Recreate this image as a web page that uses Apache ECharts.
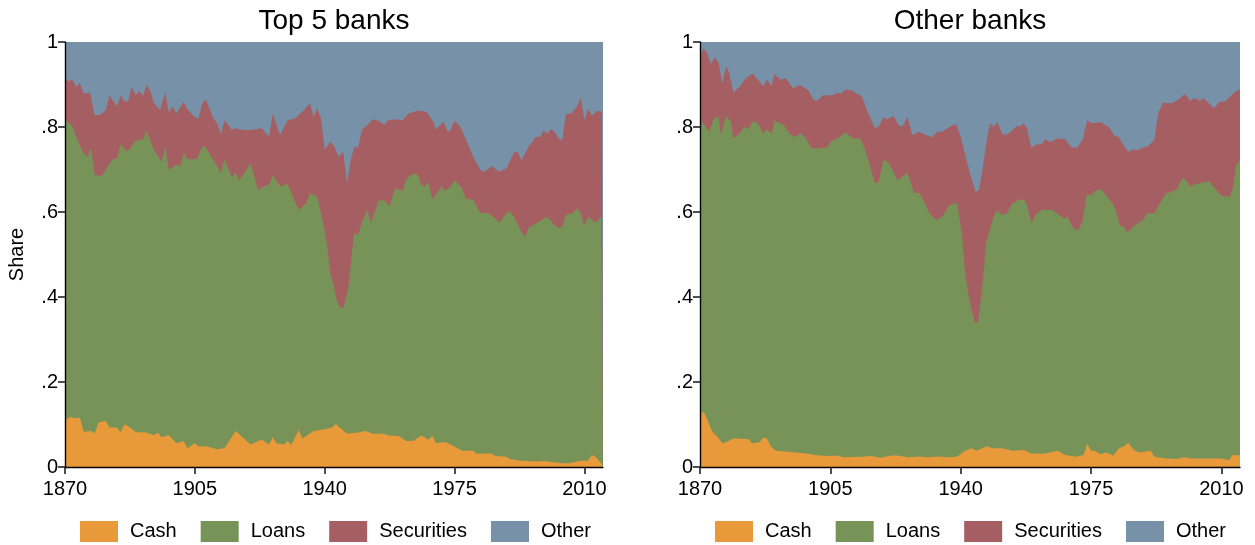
<!DOCTYPE html>
<html>
<head>
<meta charset="utf-8">
<title>Bank asset shares</title>
<script src="https://cdn.jsdelivr.net/npm/echarts@6/dist/echarts.min.js"></script>
<style>
  html, body { margin: 0; padding: 0; background: #fff; }
  #chart { width: 1255px; height: 545px; }
</style>
</head>
<body>
<div id="chart"></div>
<script>
// categories / ticks
const panelTitles = ['Top 5 banks', 'Other banks'];
const assetNames = ['Cash', 'Loans', 'Securities', 'Other'];
const assetColors = ['#e8993a', '#789358', '#a55f62', '#7791a9'];
const yearTicks = [1870, 1905, 1940, 1975, 2010];
const shareTicks = [0, 0.2, 0.4, 0.6, 0.8, 1];
const firstYear = 1870;
const lastYear = 2015;

// Top 5 banks: cumulative shares [year, share]
const top5Cash = [[1870,.111],[1871.6,.118],[1872.5,.115],[1874,.116],[1875,.083],[1877,.085],[1878,.079],[1879,.104],[1881,.109],[1882,.093],[1884,.093],[1885,.082],[1886,.100],[1887,.096],[1889,.083],[1890,.081],[1891.5,.082],[1894,.075],[1895,.081],[1896,.070],[1898,.075],[1900,.056],[1902,.061],[1903,.044],[1905,.056],[1906,.048],[1908,.049],[1911,.042],[1913,.045],[1916,.085],[1920,.053],[1923,.065],[1925,.053],[1926,.070],[1927,.056],[1929,.053],[1930,.061],[1931,.052],[1933,.087],[1934,.067],[1937,.085],[1940,.089],[1942,.093],[1943,.101],[1944,.093],[1946,.079],[1949,.081],[1951,.085],[1953,.078],[1956,.078],[1957,.074],[1960,.073],[1962,.061],[1964,.062],[1966,.074],[1968,.064],[1969,.073],[1970,.056],[1972,.059],[1973,.057],[1975,.048],[1977,.038],[1980,.038],[1981,.031],[1983,.032],[1985,.032],[1986,.026],[1989,.024],[1990,.018],[1993,.015],[1997,.013],[1999,.014],[2001,.012],[2004,.009],[2006,.009],[2009,.015],[2011,.015],[2012,.028],[2013,.024],[2014.5,.009],[2015,.007]];
const top5Loans = [[1870,.818],[1871,.809],[1872,.802],[1873,.777],[1875,.738],[1876,.730],[1877,.750],[1878,.687],[1880,.685],[1882,.715],[1883,.725],[1884,.726],[1885,.760],[1886.6,.742],[1888,.754],[1889,.768],[1891,.771],[1892,.791],[1894,.746],[1896,.718],[1897,.755],[1898,.699],[1900,.711],[1901,.707],[1902,.738],[1903,.724],[1905.5,.724],[1906,.722],[1907,.754],[1908,.752],[1910,.722],[1912,.693],[1913,.724],[1915,.682],[1916,.693],[1917,.675],[1920,.715],[1922,.652],[1924,.661],[1925,.664],[1926,.687],[1928,.660],[1930,.666],[1932,.624],[1933,.605],[1935,.620],[1936,.644],[1938,.636],[1939.6,.573],[1940.5,.530],[1941.5,.456],[1942.5,.424],[1943.2,.393],[1944,.377],[1945,.373],[1946.4,.424],[1947.9,.550],[1949,.546],[1950,.575],[1951.5,.605],[1952.5,.575],[1954.5,.627],[1956,.627],[1957.5,.614],[1959,.656],[1961,.650],[1962,.677],[1963.5,.689],[1965,.689],[1966,.664],[1967,.660],[1968,.669],[1969,.630],[1970,.642],[1971.5,.660],[1972.5,.650],[1974,.660],[1975,.675],[1977,.656],[1978,.632],[1980,.628],[1982,.597],[1984,.598],[1986,.585],[1987,.575],[1989,.597],[1990,.601],[1991,.589],[1993,.554],[1994,.542],[1995,.564],[1997,.573],[1999,.585],[2000,.589],[2002,.569],[2003,.562],[2004,.566],[2005,.593],[2007,.598],[2008,.609],[2009,.597],[2010,.567],[2011,.589],[2013,.575],[2014.5,.589],[2015,.585]];
const top5Securities = [[1870,.915],[1871,.907],[1872,.912],[1873,.895],[1874,.903],[1875,.879],[1876.7,.881],[1878,.828],[1879.4,.828],[1881,.840],[1882,.875],[1884,.848],[1885,.875],[1886,.860],[1887,.860],[1888,.895],[1889,.875],[1890,.885],[1891,.873],[1892,.899],[1893,.885],[1894,.856],[1895.6,.840],[1897,.881],[1898,.834],[1899,.848],[1900,.832],[1902,.860],[1903,.842],[1905,.823],[1906,.820],[1907,.856],[1908,.865],[1910,.820],[1911,.809],[1912,.784],[1913,.816],[1915,.793],[1916,.797],[1918,.793],[1920,.793],[1923,.797],[1925,.777],[1926,.831],[1928,.781],[1930,.816],[1932,.820],[1933,.828],[1934,.836],[1936,.856],[1937,.824],[1938,.844],[1939,.820],[1940,.746],[1941.5,.766],[1942.6,.754],[1943.7,.730],[1945,.742],[1946,.667],[1947,.722],[1948,.754],[1949,.750],[1950,.793],[1951.5,.805],[1953,.818],[1954.5,.815],[1956,.805],[1957,.816],[1959.5,.818],[1961,.816],[1962.5,.831],[1965,.838],[1967.5,.836],[1969,.816],[1970,.795],[1972,.813],[1973,.791],[1973.7,.789],[1975,.815],[1976.5,.801],[1978.5,.762],[1980,.730],[1982,.699],[1983,.695],[1985,.708],[1987,.695],[1989,.703],[1991,.740],[1992,.742],[1993,.722],[1995,.755],[1997,.777],[1998,.776],[1999,.791],[2000,.785],[2001,.795],[2002,.789],[2003,.773],[2004,.768],[2005,.831],[2006.5,.832],[2008,.849],[2009,.869],[2010,.816],[2011,.843],[2012,.827],[2013.5,.838],[2014.7,.836],[2015,.834]];

// Other banks: cumulative shares [year, share]
const otherCash = [[1870,.126],[1871,.130],[1872,.111],[1873.3,.083],[1874.7,.071],[1876,.056],[1877.4,.060],[1879,.067],[1883,.066],[1884,.056],[1886,.058],[1887,.069],[1888,.067],[1889,.048],[1890.4,.038],[1895.3,.035],[1899,.031],[1900.8,.028],[1904.4,.026],[1907,.027],[1908.5,.023],[1913.4,.024],[1916,.026],[1918.4,.022],[1919.7,.024],[1921.5,.027],[1923,.027],[1926,.023],[1928.7,.025],[1931,.023],[1934,.025],[1936.7,.023],[1939,.024],[1940.8,.036],[1942.8,.044],[1944.3,.038],[1947,.049],[1948.5,.044],[1951,.044],[1954,.038],[1957,.040],[1959,.032],[1962,.031],[1964,.034],[1966,.038],[1968,.028],[1971,.024],[1973,.028],[1974,.054],[1975,.038],[1976,.038],[1977.5,.030],[1979,.034],[1981,.027],[1982.5,.044],[1983.8,.048],[1985,.057],[1986.5,.040],[1988,.034],[1991,.038],[1992,.024],[1995,.020],[1998,.019],[2000,.023],[2002,.020],[2006,.020],[2010,.020],[2012,.016],[2013,.028],[2015,.027]];
const otherLoans = [[1870,.813],[1871,.807],[1872.4,.789],[1873.8,.820],[1875,.824],[1875.6,.781],[1877,.826],[1878.3,.813],[1879,.773],[1880.6,.785],[1882,.801],[1883,.795],[1884,.813],[1885.6,.809],[1887,.785],[1888,.795],[1889.3,.784],[1890,.815],[1892.5,.805],[1894,.785],[1895.5,.776],[1897,.785],[1898.5,.773],[1900,.750],[1902,.750],[1904,.752],[1905.5,.769],[1907,.773],[1909,.787],[1911,.773],[1913,.773],[1914,.754],[1915.3,.718],[1917,.667],[1918,.671],[1919.3,.724],[1920.6,.716],[1921.5,.703],[1923,.675],[1924.3,.683],[1925.7,.693],[1927.5,.644],[1928.8,.646],[1930,.628],[1931.6,.597],[1933.4,.581],[1935,.589],[1937,.616],[1939,.622],[1940.3,.550],[1941.2,.456],[1942.4,.390],[1943.8,.338],[1944.7,.342],[1945.8,.424],[1946.9,.530],[1948,.565],[1949.2,.597],[1950,.603],[1951,.593],[1952.4,.597],[1953.7,.619],[1955.5,.628],[1957,.630],[1957.8,.616],[1959,.573],[1960,.593],[1962,.606],[1963.3,.605],[1964.7,.605],[1966.5,.593],[1967.8,.585],[1968.7,.589],[1970,.565],[1971.4,.556],[1972.7,.577],[1973.8,.642],[1975,.640],[1976.3,.651],[1977.7,.653],[1979,.640],[1980.8,.620],[1981.7,.601],[1982.8,.569],[1984,.564],[1984.8,.551],[1986.2,.565],[1988.9,.581],[1990.2,.597],[1992,.597],[1993.4,.620],[1995.2,.644],[1997.9,.652],[1999.7,.682],[2001.7,.660],[2003.3,.666],[2005.1,.670],[2006.9,.672],[2008.2,.656],[2010,.638],[2012.3,.636],[2013.2,.660],[2014,.711],[2015,.722]];
const otherSecurities = [[1870,.969],[1871,.985],[1872,.973],[1872.9,.948],[1874,.964],[1875,.951],[1876,.903],[1877,.942],[1877.8,.929],[1879,.881],[1880.6,.895],[1882,.912],[1884,.926],[1885.6,.911],[1887,.896],[1888,.912],[1889.2,.896],[1890,.925],[1891.6,.912],[1893,.915],[1895,.891],[1896.8,.899],[1899,.887],[1900.5,.864],[1901.5,.862],[1903,.875],[1905.5,.875],[1907,.881],[1908,.878],[1909,.889],[1911,.885],[1912,.879],[1913.4,.873],[1914.8,.840],[1917,.797],[1918,.802],[1919.3,.823],[1920.2,.818],[1922,.826],[1923.3,.805],[1924.4,.801],[1925.7,.824],[1927,.781],[1928.8,.789],[1930.6,.781],[1932.4,.776],[1933.7,.789],[1935,.789],[1937.2,.801],[1938.8,.807],[1940,.777],[1941.2,.735],[1942.2,.700],[1944,.647],[1944.9,.652],[1946,.707],[1947.1,.777],[1948,.809],[1948.9,.799],[1949.8,.813],[1951.1,.784],[1952.2,.781],[1953.8,.791],[1954.9,.802],[1956,.802],[1956.9,.809],[1957.8,.797],[1959,.750],[1960.1,.758],[1961.8,.760],[1962.7,.771],[1964.1,.765],[1965.9,.773],[1968.1,.771],[1969.8,.752],[1971.3,.752],[1972.7,.769],[1974,.816],[1975.2,.809],[1977.6,.811],[1979.9,.799],[1981.3,.779],[1982.4,.777],[1983.5,.760],[1984.9,.742],[1986.2,.747],[1987.6,.746],[1988.9,.752],[1990.3,.755],[1992,.769],[1993,.831],[1994.3,.857],[1995.7,.856],[1997,.857],[1998.4,.864],[2000.2,.878],[2001.5,.862],[2002.9,.868],[2004.2,.862],[2005.1,.868],[2006.5,.857],[2008,.844],[2009.6,.860],[2011,.860],[2012.3,.871],[2013.7,.883],[2015,.889]];

// "Other" always tops out at 1
const fullShare = [[firstYear, 1], [lastYear, 1]];

const fontFamily = '"Liberation Sans", Arial, sans-serif';
const panelLeft = [65, 700];
const panelWidth = [538, 540];
const legendLeft = [80, 715];

function shareLabel(v) {
    if (v === 0) return '0';
    if (v === 1) return '1';
    return v.toFixed(1).replace(/^0/, '');
}

// layers are drawn back to front: Other, Securities, Loans, Cash
function panelSeries(idx, cash, loans, securities) {
    const layers = [
        ['Other', fullShare],
        ['Securities', securities],
        ['Loans', loans],
        ['Cash', cash]
    ];
    return layers.map(function (layer) {
        const color = assetColors[assetNames.indexOf(layer[0])];
        return {
            name: layer[0],
            type: 'line',
            xAxisIndex: idx,
            yAxisIndex: idx,
            data: layer[1],
            showSymbol: false,
            silent: true,
            animation: false,
            itemStyle: { color: color },
            lineStyle: { width: 0, color: color },
            areaStyle: { color: color, opacity: 1 }
        };
    });
}

const chart = echarts.init(document.getElementById('chart'));

const tickStyle = { color: '#222', width: 1.6 };

const option = {
    backgroundColor: '#fff',
    animation: false,
    textStyle: { fontFamily: fontFamily, color: '#000' },
    title: panelTitles.map(function (t, i) {
        return {
            text: t,
            left: panelLeft[i] + panelWidth[i] / 2,
            textAlign: 'center',
            top: 7,
            padding: 0,
            textStyle: { fontSize: 28, fontWeight: 'normal', color: '#000', fontFamily: fontFamily }
        };
    }),
    legend: legendLeft.map(function (l) {
        return {
            data: assetNames,
            left: l,
            top: 521,
            padding: 0,
            icon: 'rect',
            itemWidth: 38,
            itemHeight: 21,
            itemGap: 24,
            selectedMode: false,
            textStyle: { fontSize: 20, color: '#000', fontFamily: fontFamily, padding: [0, 0, 0, 7] }
        };
    }),
    grid: panelLeft.map(function (l, i) {
        return { left: l, top: 42, width: panelWidth[i], height: 425 };
    }),
    xAxis: [0, 1].map(function (i) {
        return {
            type: 'value',
            gridIndex: i,
            min: firstYear,
            max: lastYear,
            z: 10,
            splitLine: { show: false },
            axisLine: { show: true, onZero: false, lineStyle: { color: '#000', width: 1.4 } },
            axisTick: { show: true, inside: false, length: 7, lineStyle: tickStyle, customValues: yearTicks },
            axisLabel: { show: true, fontSize: 20, color: '#000', margin: 12, customValues: yearTicks, formatter: function (v) { return String(v); } }
        };
    }),
    yAxis: [0, 1].map(function (i) {
        return {
            type: 'value',
            gridIndex: i,
            min: 0,
            max: 1,
            z: 10,
            name: i === 0 ? 'Share' : '',
            nameLocation: 'middle',
            nameGap: 38,
            nameTextStyle: { fontSize: 20, color: '#000' },
            splitLine: { show: false },
            axisLine: { show: true, onZero: false, lineStyle: { color: '#000', width: 1.4 } },
            axisTick: { show: true, inside: false, length: 7, lineStyle: tickStyle, customValues: shareTicks },
            axisLabel: { show: true, fontSize: 20, color: '#000', margin: 7, customValues: shareTicks, formatter: shareLabel }
        };
    }),
    series: panelSeries(0, top5Cash, top5Loans, top5Securities)
        .concat(panelSeries(1, otherCash, otherLoans, otherSecurities))
};

chart.setOption(option);
</script>
</body>
</html>
